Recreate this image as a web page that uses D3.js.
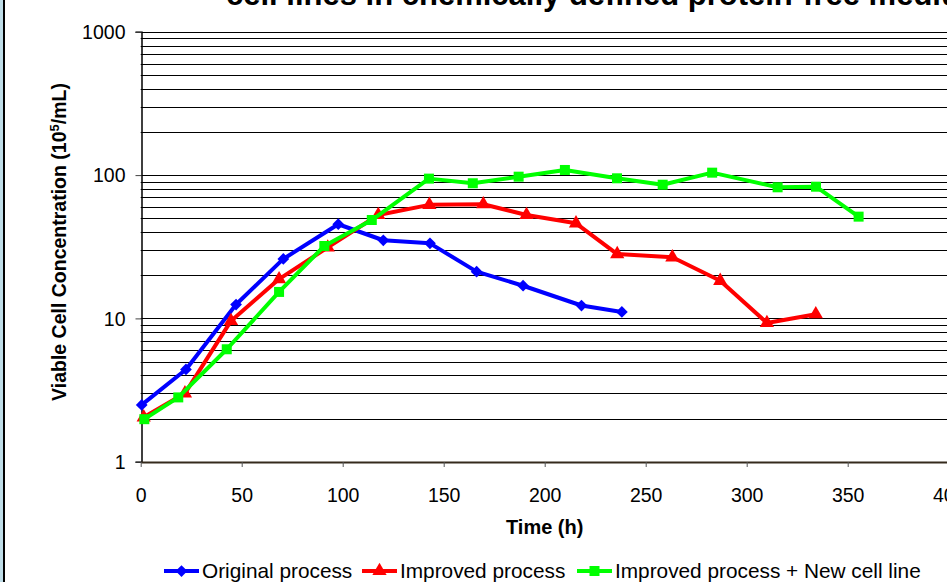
<!DOCTYPE html>
<html><head><meta charset="utf-8">
<script src="https://cdn.jsdelivr.net/npm/d3@7"></script>
<style>
body{margin:0;background:#fff;overflow:hidden}
svg{display:block}
text{font-family:"Liberation Sans",Arial,sans-serif;fill:#000}
</style>
</head><body>
<svg id="chart" width="947" height="582"></svg>
<script>
// ---- data ----
const titleText = "cell lines in chemically defined protein-free medium";
const xTitle = "Time (h)";
const seriesNames = ["Original process", "Improved process", "Improved process + New cell line"];
const seriesColors = ["#0000FF", "#FF0000", "#00FF00"];
const seriesMarkers = ["diamond", "triangle", "square"];

const timeOriginal = [0.5, 22.4, 47.2, 70.6, 97.8, 120.1, 143.2, 166.3, 189.3, 218.2, 238.2];
const valOriginal  = [2.49, 4.4, 12.5, 26.0, 45.4, 35.1, 33.4, 21.2, 16.9, 12.3, 11.1];

const timeImproved = [1.5, 21.9, 44.7, 68.5, 92.6, 117.6, 142.9, 169.6, 191.0, 215.5, 235.9, 263.2, 286.9, 310.0, 334.2];
const valImproved  = [2.04, 3.0, 9.6, 18.8, 31.3, 52.7, 62.0, 62.6, 52.7, 46.1, 28.1, 26.7, 18.3, 9.3, 10.7];

const timeNewLine = [1.8, 18.6, 42.6, 68.5, 90.9, 114.4, 142.7, 164.4, 187.1, 210.0, 235.8, 258.4, 282.9, 315.3, 334.3, 355.4];
const valNewLine  = [1.98, 2.81, 6.09, 15.3, 32.0, 48.6, 94.5, 87.7, 97.5, 108.6, 95.0, 85.7, 104.0, 82.2, 83.0, 51.3];

const xTicks = [0, 50, 100, 150, 200, 250, 300, 350, 400];
const yTicks = [1, 10, 100, 1000];
const yGridMultipliers = [1, 2, 3, 4, 5, 6, 7, 8, 9];

// ---- build ----
const series = [
  {t: timeOriginal, v: valOriginal},
  {t: timeImproved, v: valImproved},
  {t: timeNewLine, v: valNewLine}
].map((s, i) => ({
  name: seriesNames[i], color: seriesColors[i], marker: seriesMarkers[i],
  points: s.t.map((t, j) => ({t, v: s.v[j]}))
}));

const svg = d3.select("#chart");
const x = d3.scaleLinear().domain([0, 400]).range([140.7, 948.7]);
const y = d3.scaleLog().domain([1, 1000]).range([461.7, 31.8]);

// left border
svg.append("rect").attr("x", 0).attr("y", 0).attr("width", 3).attr("height", 582).attr("fill", "#bfdde8");
svg.append("rect").attr("x", 3).attr("y", 0).attr("width", 2).attr("height", 582).attr("fill", "#000");

// title (cut off at top, as in the source)
svg.append("text").attr("x", 226).attr("y", 4.5)
  .attr("font-size", 31).attr("font-weight", "bold").text(titleText);

// gridlines
const gridVals = [];
[1, 10, 100].forEach(d => yGridMultipliers.forEach(m => { if (d * m > 1) gridVals.push(d * m); }));
gridVals.push(1000);
svg.append("g").selectAll("line").data(gridVals).join("line")
  .attr("x1", x(0)).attr("x2", 947)
  .attr("y1", d => Math.round(y(d)) + 0.5).attr("y2", d => Math.round(y(d)) + 0.5)
  .attr("stroke", "#000").attr("stroke-width", 1);

// y axis
const yAxis = d3.axisLeft(y).tickValues(yTicks).tickFormat(d3.format("d")).tickSize(6).tickPadding(10);
const gy = svg.append("g").attr("transform", `translate(${Math.round(x(0)) + 0.5},0)`).call(yAxis);
gy.select(".domain").attr("stroke", "#000").attr("stroke-width", 1.5);
gy.selectAll(".tick line").attr("stroke", "#444");
gy.selectAll(".tick text").attr("font-size", 19.5).attr("font-family", "Liberation Sans, Arial, sans-serif").attr("dy", "0.35em");

// x axis
const xAxis = d3.axisBottom(x).tickValues(xTicks).tickFormat(d3.format("d")).tickSize(5).tickPadding(21).tickSizeOuter(0);
const gx = svg.append("g").attr("transform", `translate(0,${Math.round(y(1))})`).call(xAxis);
gx.select(".domain").attr("stroke", "#352a1c").attr("stroke-width", 2);
gx.selectAll(".tick line").attr("stroke", "#555");
gx.selectAll(".tick text").attr("font-size", 19.5).attr("font-family", "Liberation Sans, Arial, sans-serif");

// axis titles
svg.append("text").attr("x", x(200)).attr("y", 534).attr("text-anchor", "middle")
  .attr("font-size", 20).attr("font-weight", "bold").text(xTitle);
const yt = svg.append("text").attr("transform", "translate(66,242) rotate(-90)")
  .attr("text-anchor", "middle").attr("font-size", 19.5).attr("font-weight", "bold");
yt.append("tspan").text("Viable Cell Concentration (10");
yt.append("tspan").attr("dy", -7).attr("font-size", 13).text("5");
yt.append("tspan").attr("dy", 7).text("/mL)");

// markers
function markerPath(type) {
  if (type === "diamond") return d3.symbol().type(d3.symbolDiamond2).size(88)();
  if (type === "triangle") return d3.symbol().type(d3.symbolTriangle).size(88)();
  return d3.symbol().type(d3.symbolSquare).size(100)();
}
const line = d3.line().x(d => x(d.t)).y(d => y(d.v));
series.forEach(s => {
  const g = svg.append("g");
  g.append("path").attr("d", line(s.points)).attr("fill", "none")
    .attr("stroke", s.color).attr("stroke-width", 4).attr("stroke-linejoin", "round");
  g.selectAll("path.m").data(s.points).join("path").attr("class", "m")
    .attr("d", markerPath(s.marker))
    .attr("transform", d => `translate(${x(d.t)},${y(d.v)})`)
    .attr("fill", s.color);
});

// legend
const legendX = [164, 362, 577];
const lg = svg.append("g");
series.forEach((s, i) => {
  const g = lg.append("g").attr("transform", `translate(${legendX[i]},571)`);
  g.append("line").attr("x1", 0).attr("x2", 35).attr("stroke", s.color).attr("stroke-width", 4);
  g.append("path").attr("d", markerPath(s.marker)).attr("transform", "translate(17.5,0)").attr("fill", s.color);
  g.append("text").attr("x", 38).attr("y", 7).attr("font-size", 20.8).text(s.name);
});
</script>
</body></html>
